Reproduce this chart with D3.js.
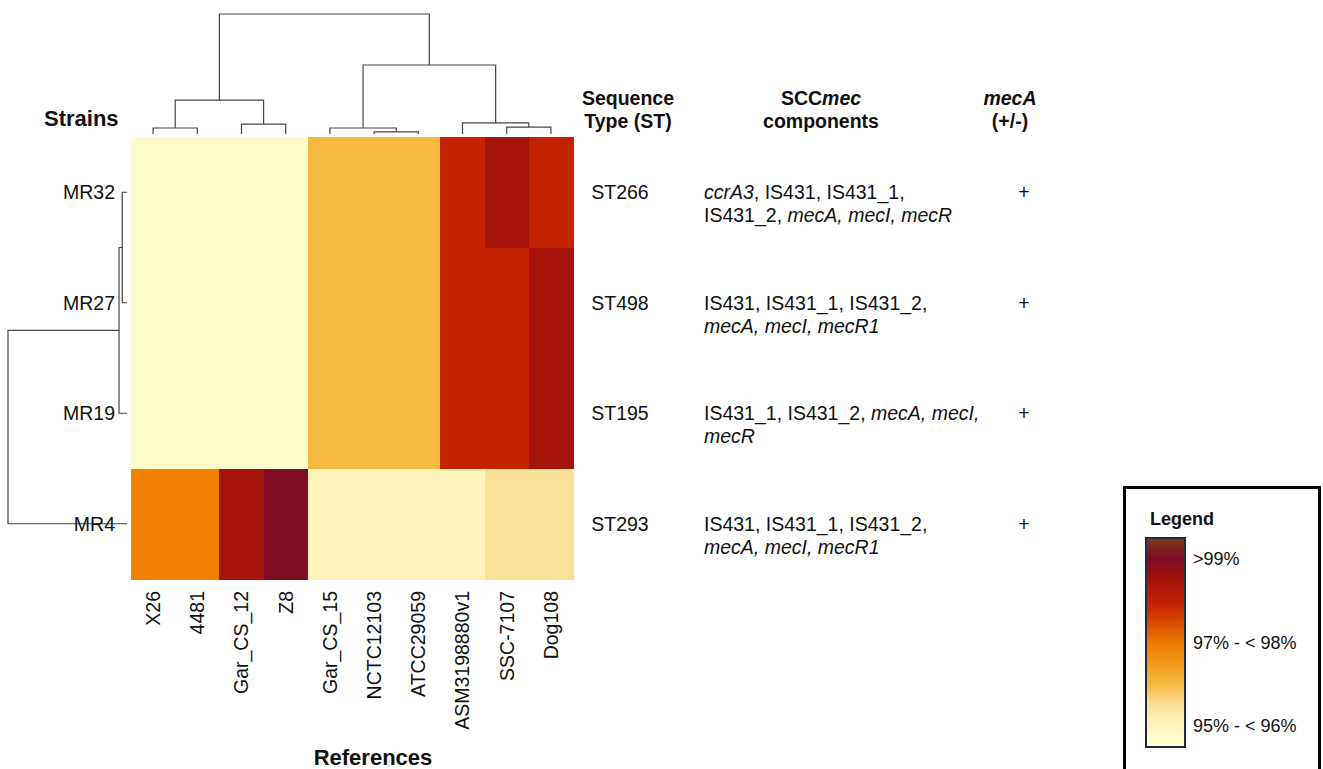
<!DOCTYPE html>
<html>
<head>
<meta charset="utf-8">
<script src="https://cdn.jsdelivr.net/npm/d3@7"></script>
<style>
  body { margin: 0; background: #fff; }
  text { font-family: "Liberation Sans", Arial, sans-serif; fill: #111; }
</style>
</head>
<body>
<div id="chart"></div>
<script>
// strains (rows) and references (columns), in dendrogram order
var strains = ["MR32", "MR27", "MR19", "MR4"];
var references = ["X26", "4481", "Gar_CS_12", "Z8", "Gar_CS_15", "NCTC12103",
                  "ATCC29059", "ASM3198880v1", "SSC-7107", "Dog108"];

// identity (%) of each strain against each reference
var identity = [
  [95.2, 95.2, 95.2, 95.2, 96.5, 96.5, 96.5, 98.4, 99.0, 98.4],
  [95.2, 95.2, 95.2, 95.2, 96.5, 96.5, 96.5, 98.4, 98.4, 99.0],
  [95.2, 95.2, 95.2, 95.2, 96.5, 96.5, 96.5, 98.4, 98.4, 99.0],
  [97.4, 97.4, 99.0, 99.5, 95.6, 95.6, 95.6, 95.6, 96.0, 96.0]
];

// hclust style merges: negative = leaf index (1-based), positive = earlier merge
var colMerge = [[-6, -7], [-1, -2], [-5, 1], [-9, -10], [-3, -4], [-8, 4], [2, 5], [3, 6], [7, 8]];
var colHeight = [0.017, 0.05, 0.05, 0.058, 0.083, 0.092, 0.283, 0.575, 1.0];
var rowMerge = [[-1, -2], [1, -3], [2, -4]];
var rowHeight = [0.04, 0.067, 1.0];

// annotation columns
var seqTypes = ["ST266", "ST498", "ST195", "ST293"];
// *...* marks italic gene names
var sccmec = [
  ["*ccrA3*, IS431, IS431_1,", "IS431_2, *mecA, mecI, mecR*"],
  ["IS431, IS431_1, IS431_2,", "*mecA, mecI, mecR1*"],
  ["IS431_1, IS431_2, *mecA, mecI,*", "*mecR*"],
  ["IS431, IS431_1, IS431_2,", "*mecA, mecI, mecR1*"]
];
var mecA = ["+", "+", "+", "+"];

// colour ramp
var rampValues = [95.0, 95.2, 95.6, 96.0, 96.5, 97.4, 98.4, 99.0, 99.5, 100];
var rampColors = ["#fffdd4", "#fffccc", "#fdf2b8", "#f9e197", "#f5b93f",
                  "#f28100", "#c42300", "#a5140a", "#7d0c24", "#7a3a1e"];
var legendValues = [99.5, 97.5, 95.5];
var legendLabels = [">99%", "97% - < 98%", "95% - < 96%"];

var width = 1323, height = 769;
var svg = d3.select("#chart").append("svg")
  .attr("width", width).attr("height", height);

var color = d3.scaleLinear().domain(rampValues).range(rampColors);

var x = d3.scaleBand().domain(references).range([131, 573]);
var y = d3.scaleBand().domain(strains).range([137, 579]);

/** Heatmap cells */
var cells = [];
identity.forEach(function(row, i){
  row.forEach(function(v, j){
    cells.push({strain: strains[i], ref: references[j], value: v});
  });
});
svg.append("g").attr("shape-rendering", "crispEdges").selectAll("rect")
  .data(cells).enter().append("rect")
  .attr("x", function(d){ return x(d.ref); })
  .attr("y", function(d){ return y(d.strain); })
  .attr("width", x.bandwidth() + 1)
  .attr("height", y.bandwidth() + 1)
  .attr("fill", function(d){ return color(d.value); });

/** Dendrograms */
function dendroNodes(merge, heights, leafPos)
{
  var nodes = [];
  function get(k){
    return k < 0 ? {p: leafPos(-k - 1), h: 0} : nodes[k - 1];
  }
  merge.forEach(function(m, i){
    var a = get(m[0]), b = get(m[1]);
    nodes.push({p: (a.p + b.p) / 2, h: heights[i], a: a, b: b});
  });
  return nodes;
}

var colH = d3.scaleLinear().domain([0, 1]).range([134, 14]);
var colNodes = dendroNodes(colMerge, colHeight, function(i){ return x(references[i]) + x.bandwidth() / 2; });
svg.append("g").selectAll("path")
  .data(colNodes).enter().append("path")
  .attr("fill", "none").attr("stroke", "#444").attr("stroke-width", 1.2)
  .attr("d", function(n){
    return "M" + n.a.p + "," + colH(n.a.h) + "V" + colH(n.h) + "H" + n.b.p + "V" + colH(n.b.h);
  });

var rowH = d3.scaleLinear().domain([0, 1]).range([127, 8]);
var rowNodes = dendroNodes(rowMerge, rowHeight, function(i){ return y(strains[i]) + y.bandwidth() / 2; });
svg.append("g").selectAll("path")
  .data(rowNodes).enter().append("path")
  .attr("fill", "none").attr("stroke", "#444").attr("stroke-width", 1.2)
  .attr("d", function(n){
    return "M" + rowH(n.a.h) + "," + n.a.p + "H" + rowH(n.h) + "V" + n.b.p + "H" + rowH(n.b.h);
  });

/** Row and column labels */
svg.append("g").selectAll("text")
  .data(strains).enter().append("text")
  .attr("x", 115)
  .attr("y", function(d){ return y(d) + y.bandwidth() / 2; })
  .attr("dy", "0.35em")
  .attr("text-anchor", "end")
  .style("font-size", "19.5px")
  .text(function(d){ return d; });

svg.append("g").selectAll("text")
  .data(references).enter().append("text")
  .attr("transform", function(d){ return "translate(" + (x(d) + x.bandwidth() / 2) + ",591) rotate(-90)"; })
  .attr("dy", "0.35em")
  .attr("text-anchor", "end")
  .style("font-size", "19.5px")
  .text(function(d){ return d; });

svg.append("text").attr("x", 373).attr("y", 757).attr("dy", "0.35em")
  .attr("text-anchor", "middle").style("font-size", "22px").style("font-weight", "bold")
  .text("References");
svg.append("text").attr("x", 44).attr("y", 118).attr("dy", "0.35em")
  .style("font-size", "22px").style("font-weight", "bold")
  .text("Strains");

/** Annotation headers */
function header(cx, lines)
{
  var t = svg.append("text").attr("text-anchor", "middle")
    .style("font-size", "19.5px").style("font-weight", "bold");
  lines.forEach(function(line, i){
    var ts = t.append("tspan").attr("x", cx).attr("y", 98 + i * 23).attr("dy", "0.35em");
    line.split("*").forEach(function(s, k){
      if(s.length) ts.append("tspan").style("font-style", k % 2 ? "italic" : "normal").text(s);
    });
  });
}
header(628, ["Sequence", "Type (ST)"]);
header(821, ["SCC*mec*", "components"]);
header(1010, ["*mecA*", "(+/-)"]);

/** Annotation rows */
var ann = svg.append("g").style("font-size", "19.5px");
strains.forEach(function(s, i){
  var cy = y(s) + y.bandwidth() / 2;
  ann.append("text").attr("x", 620).attr("y", cy).attr("dy", "0.35em")
    .attr("text-anchor", "middle").text(seqTypes[i]);
  var t = ann.append("text");
  sccmec[i].forEach(function(line, li){
    var ts = t.append("tspan").attr("x", 704).attr("y", cy + li * 23).attr("dy", "0.35em");
    line.split("*").forEach(function(part, k){
      if(part.length) ts.append("tspan").style("font-style", k % 2 ? "italic" : "normal").text(part);
    });
  });
  ann.append("text").attr("x", 1024).attr("y", cy).attr("dy", "0.35em")
    .attr("text-anchor", "middle").text(mecA[i]);
});

/** Legend */
var defs = svg.append("defs");
var grad = defs.append("linearGradient").attr("id", "legendGrad")
  .attr("x1", 0).attr("y1", 1).attr("x2", 0).attr("y2", 0);
rampValues.forEach(function(v){
  grad.append("stop").attr("offset", (v - 95) / 5).attr("stop-color", color(v));
});
svg.append("rect").attr("x", 1124.5).attr("y", 487.5).attr("width", 195).attr("height", 300)
  .attr("fill", "#fff").attr("stroke", "#000").attr("stroke-width", 3);
svg.append("text").attr("x", 1150).attr("y", 519).attr("dy", "0.35em")
  .style("font-size", "18px").style("font-weight", "bold").text("Legend");
var ly = d3.scaleLinear().domain([95, 100]).range([747, 538]);
svg.append("rect").attr("x", 1146).attr("y", ly(100)).attr("width", 39).attr("height", ly(95) - ly(100))
  .attr("fill", "url(#legendGrad)").attr("stroke", "#1d2b3a").attr("stroke-width", 2);
svg.append("g").selectAll("text")
  .data(legendValues).enter().append("text")
  .attr("x", 1193).attr("y", function(d){ return ly(d); }).attr("dy", "0.35em")
  .style("font-size", "18px")
  .text(function(d, i){ return legendLabels[i]; });
</script>
</body>
</html>
